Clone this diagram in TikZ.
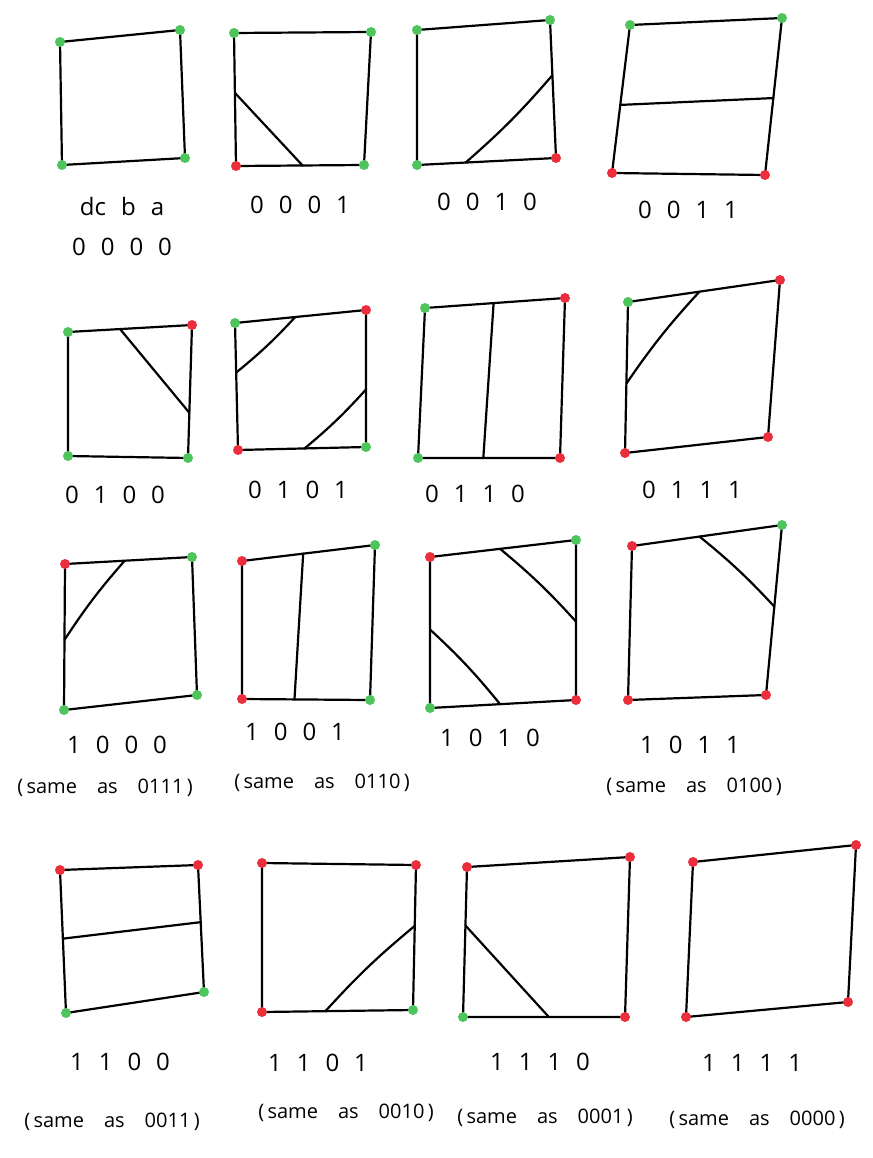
\documentclass[tikz,border=0pt]{standalone}
\usepackage{fontspec}
\setmainfont{Open Sans}
\usetikzlibrary{calc}
\definecolor{ptgreen}{RGB}{78,196,92}
\definecolor{ptred}{RGB}{236,46,60}
\newcommand\dg{\hspace{15pt}}
\newcommand\wsp{\hspace{20pt}}
\newcommand\cell[9]{%
  \coordinate (#1-tl) at (#2);
  \coordinate (#1-tr) at (#3);
  \coordinate (#1-br) at (#4);
  \coordinate (#1-bl) at (#5);
  \draw[edge] (#1-tl) -- (#1-tr) -- (#1-br) -- (#1-bl) -- cycle;
  \node[#6] (#1-TL) at (#1-tl) {};
  \node[#7] (#1-TR) at (#1-tr) {};
  \node[#8] (#1-BR) at (#1-br) {};
  \node[#9] (#1-BL) at (#1-bl) {};
}
\tikzset{
  edge/.style={line width=2.2pt, line cap=round, line join=round},
  cont/.style={line width=2.2pt, line cap=round},
  gdot/.style={circle, fill=ptgreen, inner sep=0pt, minimum size=10pt},
  rdot/.style={circle, fill=ptred, inner sep=0pt, minimum size=10pt},
  digits/.style={font=\fontsize{24}{28}\selectfont, inner sep=0pt},
  note/.style={font=\fontsize{20}{24}\selectfont, inner sep=0pt}
}
\begin{document}
\begin{tikzpicture}[x=1pt,y=-1pt]
\useasboundingbox[fill=white] (0,0) rectangle (872,1158);

% ---------- Row 1 ----------
\cell{a}{60,42}{180,30}{185,158}{62,165}{gdot}{gdot}{gdot}{gdot}
\node[digits] (la) at (122,207) {dc\dg b\dg a};
\node[digits] (la2) at (122,247) {0\dg 0\dg 0\dg 0};

\cell{b}{234,33}{371,32}{364,165}{236,166}{gdot}{gdot}{gdot}{rdot}
\coordinate (b-l) at ($(b-tl)!0.45!(b-bl)$);
\coordinate (b-b) at ($(b-bl)!0.52!(b-br)$);
\draw[cont] (b-l) -- (b-b);
\node[digits] (lb) at (300,205) {0\dg 0\dg 0\dg 1};

\cell{c}{417,30}{550,20}{556,158}{417,165}{gdot}{gdot}{rdot}{gdot}
\coordinate (c-r) at ($(c-tr)!0.4!(c-br)$);
\coordinate (c-b) at ($(c-bl)!0.35!(c-br)$);
\draw[cont] (c-r) to[bend left=4] (c-b);
\node[digits] (lc) at (487,202) {0\dg 0\dg 1\dg 0};

\cell{d}{630,25}{782,18}{765,175}{612,173}{gdot}{gdot}{rdot}{rdot}
\coordinate (d-l) at ($(d-tl)!0.54!(d-bl)$);
\coordinate (d-r) at ($(d-tr)!0.51!(d-br)$);
\draw[cont] (d-l) -- (d-r);
\node[digits] (ld) at (688,210) {0\dg 0\dg 1\dg 1};

% ---------- Row 2 ----------
\cell{e}{68,332}{192,325}{188,458}{68,456}{gdot}{rdot}{gdot}{gdot}
\coordinate (e-t) at ($(e-tl)!0.42!(e-tr)$);
\coordinate (e-r) at ($(e-tr)!0.66!(e-br)$);
\draw[cont] (e-t) -- (e-r);
\node[digits] (le) at (115,495) {0\dg 1\dg 0\dg 0};

\cell{f}{235,323}{366,310}{366,447}{238,450}{gdot}{rdot}{gdot}{rdot}
\coordinate (f-t) at ($(f-tl)!0.46!(f-tr)$);
\coordinate (f-l) at ($(f-tl)!0.39!(f-bl)$);
\coordinate (f-r) at ($(f-tr)!0.58!(f-br)$);
\coordinate (f-b) at ($(f-bl)!0.52!(f-br)$);
\draw[cont] (f-t) to[bend left=4] (f-l);
\draw[cont] (f-r) to[bend left=4] (f-b);
\node[digits] (lf) at (298,490) {0\dg 1\dg 0\dg 1};

\cell{g}{425,308}{565,298}{560,458}{418,458}{gdot}{rdot}{rdot}{gdot}
\coordinate (g-t) at ($(g-tl)!0.49!(g-tr)$);
\coordinate (g-b) at ($(g-bl)!0.46!(g-br)$);
\draw[cont] (g-t) -- (g-b);
\node[digits] (lg) at (475,494) {0\dg 1\dg 1\dg 0};

\cell{h}{628,302}{780,280}{768,437}{625,453}{gdot}{rdot}{rdot}{rdot}
\coordinate (h-t) at ($(h-tl)!0.47!(h-tr)$);
\coordinate (h-l) at ($(h-tl)!0.54!(h-bl)$);
\draw[cont] (h-t) to[bend right=4] (h-l);
\node[digits] (lh) at (692,490) {0\dg 1\dg 1\dg 1};

% ---------- Row 3 ----------
\cell{i}{65,564}{192,557}{197,695}{64,710}{rdot}{gdot}{gdot}{gdot}
\coordinate (i-t) at ($(i-tl)!0.47!(i-tr)$);
\coordinate (i-l) at ($(i-tl)!0.52!(i-bl)$);
\draw[cont] (i-t) to[bend right=4] (i-l);
\node[digits] (li) at (117,745) {1\dg 0\dg 0\dg 0};
\node[note] (ni) at (105,788) {(\,same\wsp as\wsp 0111\,)};

\cell{j}{242,561}{375,545}{370,700}{242,699}{rdot}{gdot}{gdot}{rdot}
\coordinate (j-t) at ($(j-tl)!0.46!(j-tr)$);
\coordinate (j-b) at ($(j-bl)!0.41!(j-br)$);
\draw[cont] (j-t) -- (j-b);
\node[digits] (lj) at (295,732) {1\dg 0\dg 0\dg 1};
\node[note] (nj) at (322,783) {(\,same\wsp as\wsp 0110\,)};

\cell{k}{430,557}{576,540}{576,700}{430,708}{rdot}{gdot}{rdot}{gdot}
\coordinate (k-t) at ($(k-tl)!0.48!(k-tr)$);
\coordinate (k-r) at ($(k-tr)!0.51!(k-br)$);
\coordinate (k-l) at ($(k-tl)!0.48!(k-bl)$);
\coordinate (k-b) at ($(k-bl)!0.48!(k-br)$);
\draw[cont] (k-t) to[bend left=4] (k-r);
\draw[cont] (k-l) to[bend left=4] (k-b);
\node[digits] (lk) at (490,738) {1\dg 0\dg 1\dg 0};

\cell{m}{632,546}{782,525}{766,695}{628,700}{rdot}{gdot}{rdot}{rdot}
\coordinate (m-t) at ($(m-tl)!0.45!(m-tr)$);
\coordinate (m-r) at ($(m-tr)!0.48!(m-br)$);
\draw[cont] (m-t) to[bend left=4] (m-r);
\node[digits] (lm) at (690,745) {1\dg 0\dg 1\dg 1};
\node[note] (nm) at (694,787) {(\,same\wsp as\wsp 0100\,)};

% ---------- Row 4 ----------
\cell{n}{60,870}{198,865}{204,992}{66,1013}{rdot}{rdot}{gdot}{gdot}
\coordinate (n-l) at ($(n-tl)!0.48!(n-bl)$);
\coordinate (n-r) at ($(n-tr)!0.45!(n-br)$);
\draw[cont] (n-l) -- (n-r);
\node[digits] (ln) at (120,1062) {1\dg 1\dg 0\dg 0};
\node[note] (nn) at (112,1122) {(\,same\wsp as\wsp 0011\,)};

\cell{o}{262,863}{416,865}{413,1010}{262,1012}{rdot}{rdot}{gdot}{rdot}
\coordinate (o-r) at ($(o-tr)!0.42!(o-br)$);
\coordinate (o-b) at ($(o-bl)!0.42!(o-br)$);
\draw[cont] (o-r) to[bend right=4] (o-b);
\node[digits] (lo) at (318,1063) {1\dg 1\dg 0\dg 1};
\node[note] (no) at (346,1113) {(\,same\wsp as\wsp 0010\,)};

\cell{p}{467,867}{630,857}{625,1017}{463,1017}{rdot}{rdot}{rdot}{gdot}
\coordinate (p-l) at ($(p-tl)!0.39!(p-bl)$);
\coordinate (p-b) at ($(p-bl)!0.53!(p-br)$);
\draw[cont] (p-l) -- (p-b);
\node[digits] (lp) at (540,1062) {1\dg 1\dg 1\dg 0};
\node[note] (np) at (545,1118) {(\,same\wsp as\wsp 0001\,)};

\cell{q}{693,862}{856,845}{848,1002}{686,1017}{rdot}{rdot}{rdot}{rdot}
\node[digits] (lq) at (752,1063) {1\dg 1\dg 1\dg 1};
\node[note] (nq) at (757,1120) {(\,same\wsp as\wsp 0000\,)};
\end{tikzpicture}
\end{document}
